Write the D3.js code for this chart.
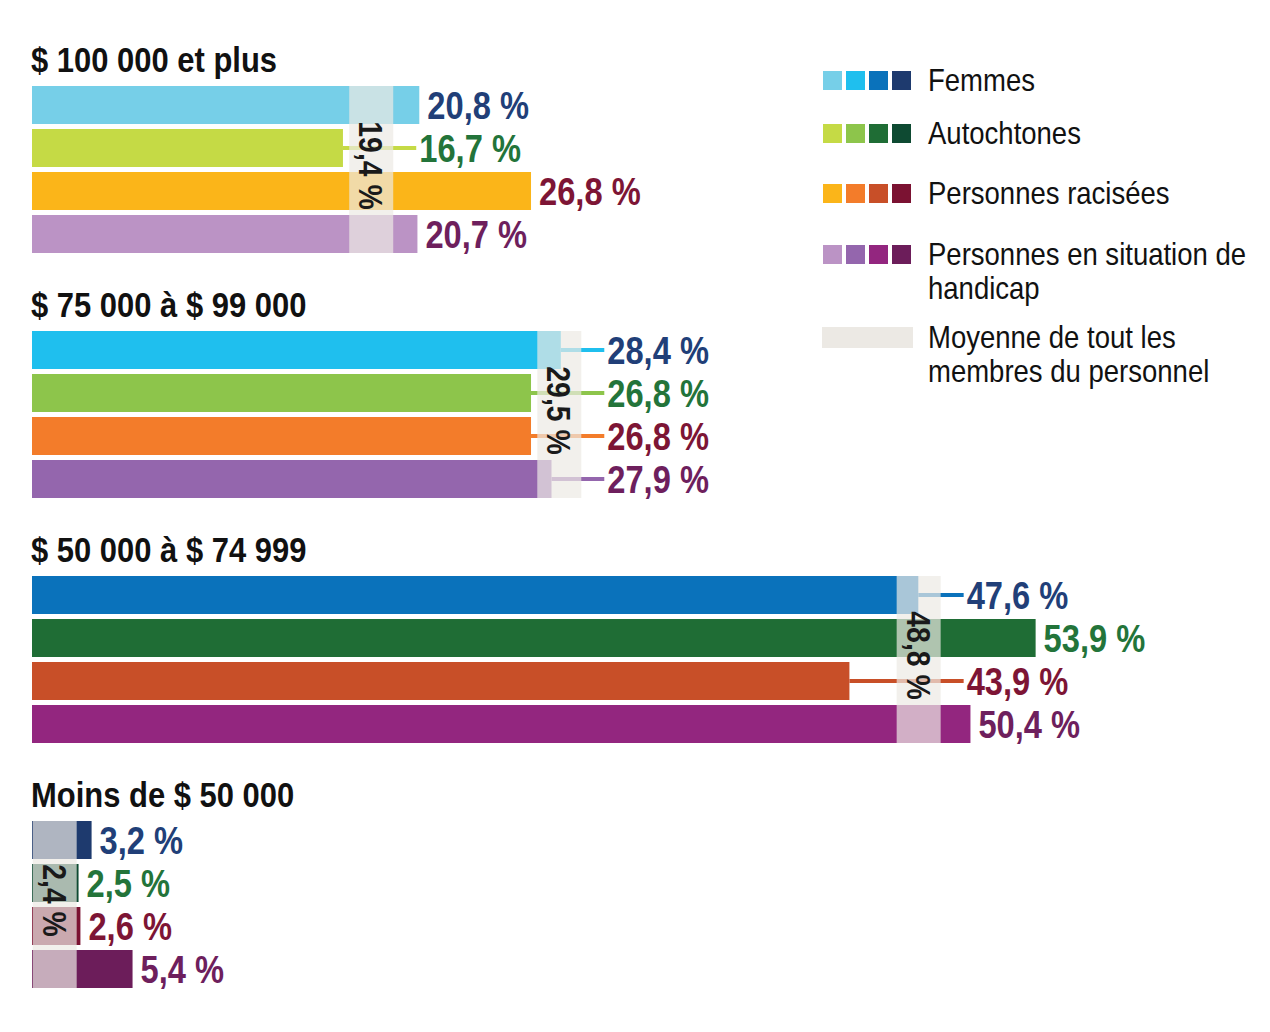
<!DOCTYPE html>
<html>
<head>
<meta charset="utf-8">
<script src="https://cdn.jsdelivr.net/npm/d3@7"></script>
<style>
  body { margin: 0; background: #fff; }
  svg { display: block; }
  text { font-family: "Liberation Sans", Arial, sans-serif; }
</style>
</head>
<body>
<div id="chart"></div>
<script>
// tranches de salaire
const groups = ["$ 100 000 et plus", "$ 75 000 à $ 99 000", "$ 50 000 à $ 74 999", "Moins de $ 50 000"];
const seriesNames = ["Femmes", "Autochtones", "Personnes racisées", "Personnes en situation de handicap"];

// valeurs (%) par tranche, dans l'ordre des groupes
const femmes = [20.8, 28.4, 47.6, 3.2];
const autochtones = [16.7, 26.8, 53.9, 2.5];
const racisees = [26.8, 26.8, 43.9, 2.6];
const handicap = [20.7, 27.9, 50.4, 5.4];
const moyenne = [19.4, 29.5, 48.8, 2.4];

const seriesValues = [femmes, autochtones, racisees, handicap];

// une teinte par tranche (claire -> foncée)
const shades = [
    ["#76cfe8", "#1fbfee", "#0a72bb", "#1e3a6e"],
    ["#c5da45", "#8dc54b", "#1f6d35", "#0e4a32"],
    ["#fbb519", "#f37c2a", "#c84f28", "#7b1232"],
    ["#bb93c5", "#9466ad", "#93267f", "#6c1d5a"]
];
const labelColors = ["#213f78", "#23743a", "#7d1535", "#6e1f5d"];
const bandColor = "#ece9e4";

const width = 1270, height = 1032;
const squeeze = 0.86; // police condensée simulée

const svg = d3.select("#chart")
    .append("svg")
    .attr("width", width)
    .attr("height", height);

const fr = d3.formatLocale({decimal: ",", thousands: " ", grouping: [3], currency: ["", " $"]});
const fmt = v => fr.format(".1f")(v) + " %";

// texte étroit : on compresse horizontalement
function narrowText(sel, xPos, yPos, extra) {
    return sel.append("text")
        .attr("transform", `translate(${xPos},${yPos})${extra || ""} scale(${squeeze},1)`);
}

const x = d3.scaleLinear()
    .domain([0, 60])
    .range([32, 32 + 60 * 18.62]);

const yGroup = d3.scaleBand()
    .domain(groups)
    .range([86, 86 + 4 * 245]);

const yBar = d3.scaleBand()
    .domain(seriesNames)
    .range([0, 167])
    .paddingInner(5 / 43);

const bandW = 44; // largeur de la bande moyenne (px)

groups.forEach((grp, gi) => {
    const g = svg.append("g")
        .attr("transform", `translate(0,${yGroup(grp)})`);

    narrowText(g, 31, -14)
        .style("font-size", "36px")
        .style("font-weight", "bold")
        .style("fill", "#111")
        .text(grp);

    const avg = moyenne[gi];
    const bandRight = x(avg);
    const bandLeft = Math.max(x(0), bandRight - bandW);

    const rows = seriesNames.map((name, si) => ({
        name: name,
        si: si,
        value: seriesValues[si][gi],
        color: shades[si][gi]
    }));

    g.selectAll(".bar")
        .data(rows)
        .join("rect")
        .attr("class", "bar")
        .attr("x", x(0))
        .attr("y", d => yBar(d.name))
        .attr("width", d => x(d.value) - x(0))
        .attr("height", yBar.bandwidth())
        .style("fill", d => d.color);

    const labelX = d => Math.max(x(d.value), bandRight) + (x(d.value) < bandRight ? 26 : 8);

    // traits de rappel quand la barre s'arrête avant la bande
    g.selectAll(".leader")
        .data(rows.filter(d => x(d.value) < bandRight))
        .join("line")
        .attr("class", "leader")
        .attr("x1", d => x(d.value))
        .attr("x2", d => labelX(d) - 3)
        .attr("y1", d => yBar(d.name) + yBar.bandwidth() / 2)
        .attr("y2", d => yBar(d.name) + yBar.bandwidth() / 2)
        .style("stroke", d => d.color)
        .style("stroke-width", 4);

    g.append("rect")
        .attr("x", bandLeft)
        .attr("y", 0)
        .attr("width", bandRight - bandLeft)
        .attr("height", 167)
        .style("fill", bandColor)
        .style("opacity", 0.7);

    const cx = (bandLeft + bandRight) / 2;
    const cy = 167 / 2 - 4;
    narrowText(g, cx, cy, " rotate(90)")
        .attr("text-anchor", "middle")
        .attr("dy", "0.36em")
        .style("font-size", "33px")
        .style("font-weight", "bold")
        .style("fill", "#1a1a1a")
        .text(fmt(avg));

    rows.forEach(d => {
        narrowText(g, labelX(d), yBar(d.name) + yBar.bandwidth() / 2)
            .attr("dy", "0.36em")
            .style("font-size", "38px")
            .style("font-weight", "bold")
            .style("fill", labelColors[d.si])
            .text(fmt(d.value));
    });
});

// légende
const legend = svg.append("g").attr("transform", "translate(823,0)");
const legendTops = [71, 124, 184, 245];
const legendLines = [["Femmes"], ["Autochtones"], ["Personnes racisées"], ["Personnes en situation de", "handicap"]];

seriesNames.forEach((name, si) => {
    const item = legend.append("g").attr("transform", `translate(0,${legendTops[si]})`);
    item.selectAll("rect")
        .data(shades[si])
        .join("rect")
        .attr("x", (d, j) => j * 23)
        .attr("y", 0)
        .attr("width", 19)
        .attr("height", 19)
        .style("fill", d => d);
    const t = narrowText(item, 105, 20)
        .style("font-size", "32px")
        .style("fill", "#111");
    legendLines[si].forEach((ln, k) => {
        t.append("tspan").attr("x", 0).attr("dy", k === 0 ? 0 : 34).text(ln);
    });
});

const avgItem = legend.append("g").attr("transform", "translate(0,327)");
avgItem.append("rect")
    .attr("x", -1)
    .attr("width", 91)
    .attr("height", 21)
    .style("fill", bandColor);
const at = narrowText(avgItem, 105, 21)
    .style("font-size", "32px")
    .style("fill", "#111");
["Moyenne de tout les", "membres du personnel"].forEach((ln, k) => {
    at.append("tspan").attr("x", 0).attr("dy", k === 0 ? 0 : 34).text(ln);
});
</script>
</body>
</html>
